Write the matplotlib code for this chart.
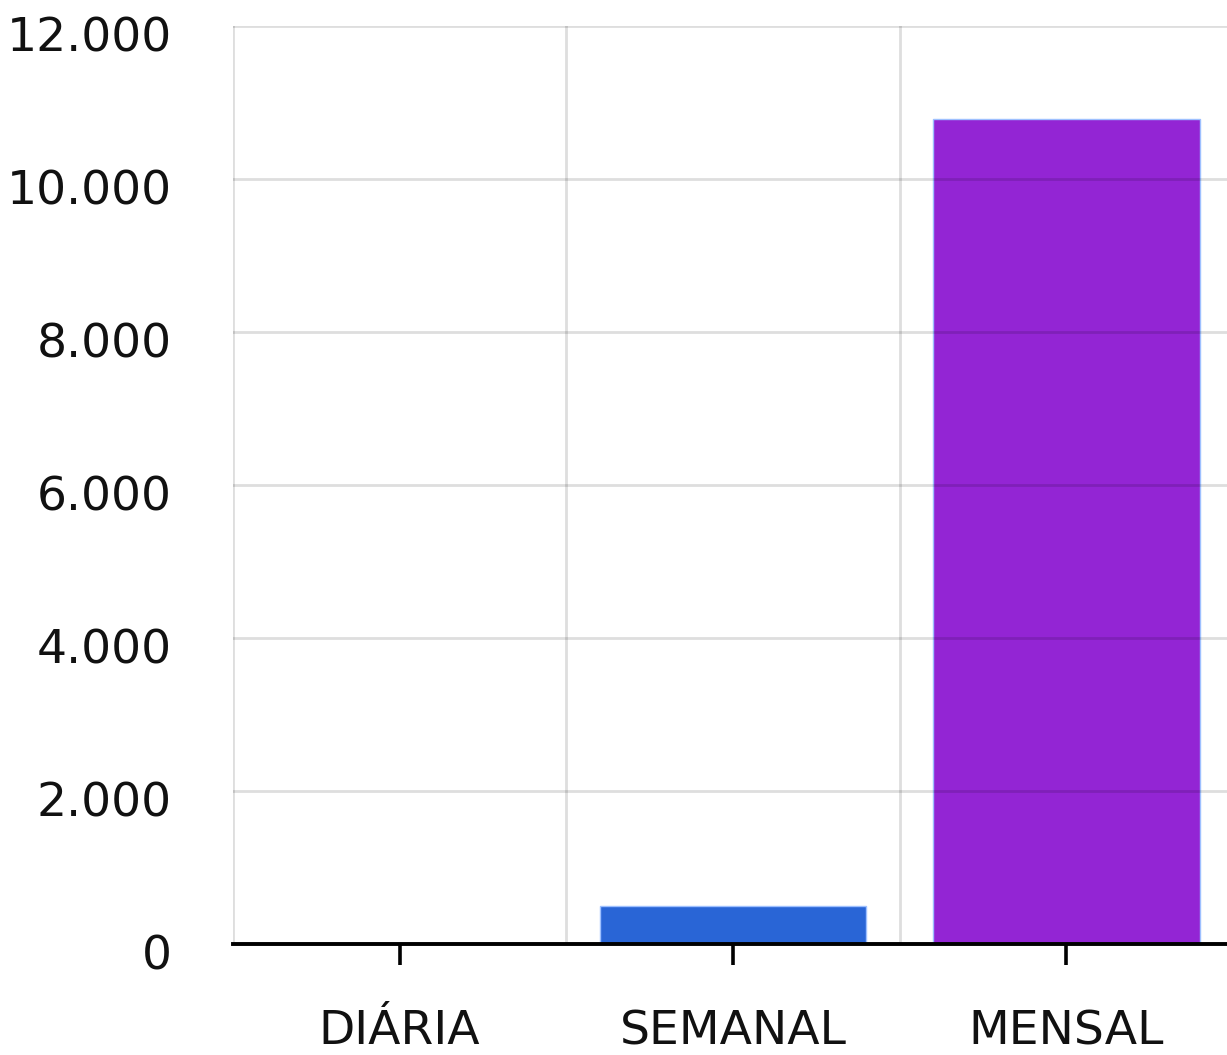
import matplotlib.pyplot as plt
from matplotlib.ticker import FuncFormatter, FixedLocator
from matplotlib.transforms import ScaledTranslation

categories = ["DIÁRIA", "SEMANAL", "MENSAL"]
values = [0, 500, 10790]
colors = ["#2965d6", "#2965d6", "#9325d4"]
y_ticks = [0, 2000, 4000, 6000, 8000, 10000, 12000]

fig = plt.figure(figsize=(12.27, 10.55), dpi=100)
ax = fig.add_axes([233 / 1227, 1 - 944 / 1055, 1000 / 1227, (944 - 26) / 1055])

x = list(range(len(categories)))
ax.bar(x, values, width=0.8, color=colors, edgecolor="#9ec0ff", linewidth=1.0, zorder=1)

ax.set_xlim(-0.5, len(categories) - 0.5)
ax.set_ylim(0, 12000)
ax.set_yticks(y_ticks)
ax.yaxis.set_major_formatter(FuncFormatter(lambda v, p: f"{int(v):,}".replace(",", ".")))
ax.set_xticks(x)
ax.set_xticklabels(categories)
ax.xaxis.set_minor_locator(FixedLocator([-0.5, 0.5, 1.5]))

ax.set_axisbelow(False)
ax.grid(axis="y", which="major", color="black", alpha=0.13, linewidth=2, zorder=3)
ax.grid(axis="x", which="minor", color="black", alpha=0.13, linewidth=2, zorder=3)
ax.grid(axis="x", which="major", visible=False)

for s in ["top", "right", "left"]:
    ax.spines[s].set_visible(False)
ax.spines["bottom"].set_linewidth(2.8)
ax.spines["bottom"].set_zorder(5)

ax.tick_params(axis="y", length=0, pad=44, labelsize=34)
ax.tick_params(axis="x", which="major", length=15, width=2.6, pad=32, labelsize=34, color="black")
ax.tick_params(axis="x", which="minor", length=0)
for t in ax.get_xticklabels() + ax.get_yticklabels():
    t.set_color("#111111")
shift = ScaledTranslation(0, -8 / 100, fig.dpi_scale_trans)
for t in ax.get_yticklabels():
    t.set_va("center_baseline")
    t.set_transform(t.get_transform() + shift)

fig.savefig("out.png", dpi=100)
